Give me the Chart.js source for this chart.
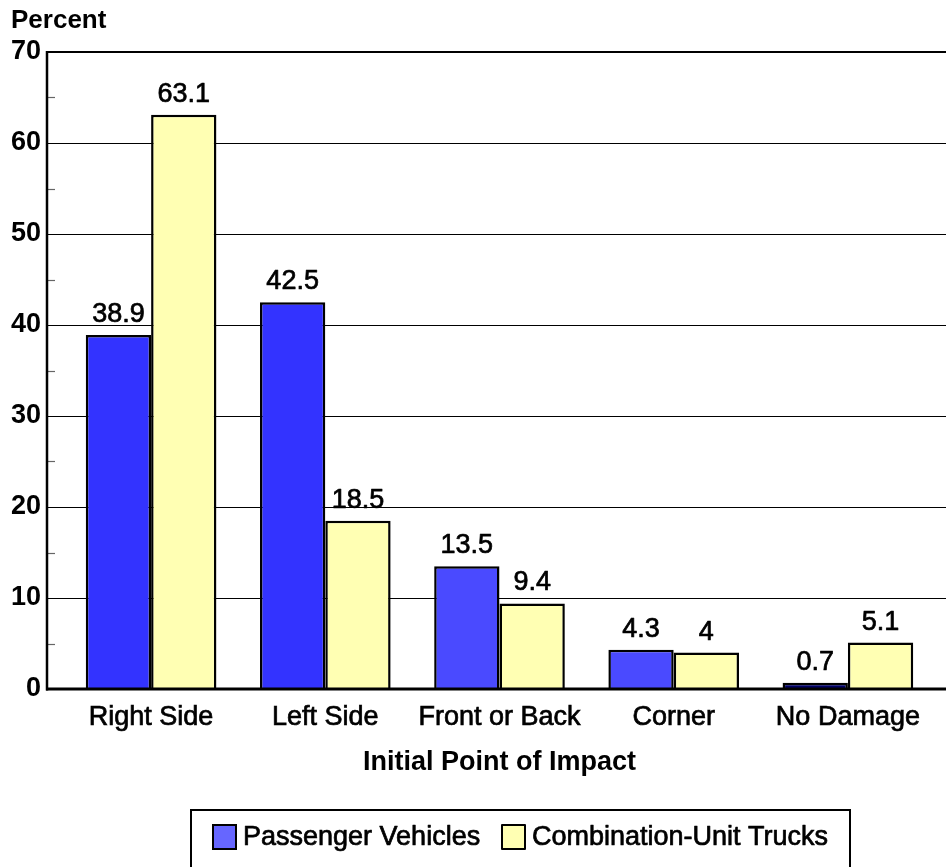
<!DOCTYPE html>
<html>
<head>
<meta charset="utf-8">
<script src="https://cdn.jsdelivr.net/npm/chart.js@4.4.1/dist/chart.umd.min.js"></script>
<style>
  html, body { margin: 0; padding: 0; background: #fff; }
  #wrap { width: 946px; height: 867px; }
</style>
</head>
<body>
<div id="wrap"><canvas id="graphCanvas" width="946" height="867"></canvas></div>
<script>
var categories = ['Right Side', 'Left Side', 'Front or Back', 'Corner', 'No Damage'];
var passenger = [38.9, 42.5, 13.5, 4.3, 0.7];
var trucks = [63.1, 18.5, 9.4, 4, 5.1];
var yTicks = [0, 10, 20, 30, 40, 50, 60, 70];
var minorTicks = [5, 15, 25, 35, 45, 55, 65];

var passengerColors = ['#3333ff', '#3333ff', '#4a4aff', '#4a4aff', '#000066'];
var truckColor = '#ffffb3';
var FONT = "'Liberation Sans', Arial, sans-serif";

// draws text a little heavier, like the rest of the labels
function heavyText(ctx, txt, x, y) {
  ctx.strokeStyle = '#000';
  ctx.lineWidth = 0.7;
  ctx.lineJoin = 'round';
  ctx.strokeText(txt, x, y);
  ctx.fillText(txt, x, y);
}

// gridlines, axis lines, bar labels, "Percent" and the boxed legend
var decor = {
  id: 'decor',
  beforeDatasetsDraw: function(chart) {
    var ctx = chart.ctx, y = chart.scales.y;
    ctx.save();
    ctx.strokeStyle = '#000';
    ctx.lineWidth = 1.2;
    for (var i = 1; i < yTicks.length - 1; i++) {
      var py = Math.round(y.getPixelForValue(yTicks[i])) + 0.5;
      ctx.beginPath(); ctx.moveTo(47, py); ctx.lineTo(946, py); ctx.stroke();
    }
    ctx.strokeStyle = '#666';
    ctx.lineWidth = 1.2;
    minorTicks.forEach(function(v) {
      var py = Math.round(y.getPixelForValue(v)) + 0.5;
      ctx.beginPath(); ctx.moveTo(47, py); ctx.lineTo(55, py); ctx.stroke();
    });
    ctx.strokeStyle = '#000';
    ctx.lineWidth = 2;
    var top = y.getPixelForValue(70);
    ctx.beginPath(); ctx.moveTo(47, top); ctx.lineTo(946, top); ctx.stroke();
    ctx.restore();
  },
  afterDatasetsDraw: function(chart) {
    var ctx = chart.ctx, y = chart.scales.y;
    ctx.save();
    ctx.strokeStyle = '#000';
    ctx.lineWidth = 3;
    var base = y.getPixelForValue(0);
    ctx.beginPath(); ctx.moveTo(46, base); ctx.lineTo(946, base); ctx.stroke();
    ctx.lineWidth = 2.5;
    ctx.beginPath(); ctx.moveTo(47, y.getPixelForValue(70) - 1); ctx.lineTo(47, base + 1.5); ctx.stroke();

    ctx.fillStyle = '#000';
    ctx.font = '27px ' + FONT;
    ctx.textAlign = 'center';
    ctx.textBaseline = 'bottom';
    chart.data.datasets.forEach(function(ds, di) {
      chart.getDatasetMeta(di).data.forEach(function(bar, i) {
        heavyText(ctx, String(ds.data[i]), bar.x, bar.y - 7);
      });
    });
    ctx.restore();
  },
  afterDraw: function(chart) {
    var ctx = chart.ctx;
    ctx.save();
    ctx.fillStyle = '#000';
    ctx.font = 'bold 26px ' + FONT;
    ctx.textAlign = 'left';
    ctx.textBaseline = 'alphabetic';
    ctx.fillText('Percent', 11, 28);

    // legend box
    ctx.strokeStyle = '#000';
    ctx.lineWidth = 2;
    ctx.strokeRect(191, 810, 659, 70);
    var items = [
      { text: chart.data.datasets[0].label, color: '#6666ff', x: 213 },
      { text: chart.data.datasets[1].label, color: truckColor, x: 502 }
    ];
    ctx.font = '27px ' + FONT;
    ctx.textBaseline = 'middle';
    items.forEach(function(it) {
      ctx.fillStyle = it.color;
      ctx.fillRect(it.x, 825, 23, 24);
      ctx.strokeStyle = '#000';
      ctx.lineWidth = 2;
      ctx.strokeRect(it.x, 825, 23, 24);
      ctx.fillStyle = '#000';
      heavyText(ctx, it.text, it.x + 30, 838);
    });
    ctx.restore();
  }
};

var chartdata = {
  labels: categories,
  datasets: [
    {
      label: 'Passenger Vehicles',
      backgroundColor: passengerColors,
      borderColor: '#000',
      borderWidth: 2.5,
      data: passenger
    },
    {
      label: 'Combination-Unit Trucks',
      backgroundColor: truckColor,
      borderColor: '#000',
      borderWidth: 2.5,
      data: trucks
    }
  ]
};

var barGraph = new Chart(document.getElementById('graphCanvas'), {
  type: 'bar',
  data: chartdata,
  plugins: [decor],
  options: {
    responsive: false,
    animation: false,
    devicePixelRatio: 1,
    layout: { padding: { left: 0, right: 11, top: 52, bottom: 84 } },
    datasets: { bar: { categoryPercentage: 0.75, barPercentage: 1.0 } },
    plugins: { legend: { display: false }, tooltip: { enabled: false } },
    scales: {
      x: {
        grid: { display: false, drawTicks: false },
        border: { display: false },
        ticks: { color: '#000', font: { family: FONT, size: 27 }, padding: 12, maxRotation: 0,
          textStrokeColor: '#000', textStrokeWidth: 0.7 },
        title: { display: true, text: 'Initial Point of Impact', color: '#000', font: { family: FONT, size: 27, weight: 'bold' }, padding: { top: 6 } },
        afterFit: function(scale) { scale.height = 94; }
      },
      y: {
        min: 0, max: 70,
        grid: { display: false, drawTicks: false },
        border: { display: false },
        ticks: { stepSize: 10, color: '#000', font: { family: FONT, size: 27, weight: 'bold' }, padding: 23,
          callback: function(v) { return yTicks.indexOf(v) >= 0 ? v : ''; } },
        afterFit: function(scale) { scale.width = 64; }
      }
    }
  }
});
</script>
</body>
</html>
